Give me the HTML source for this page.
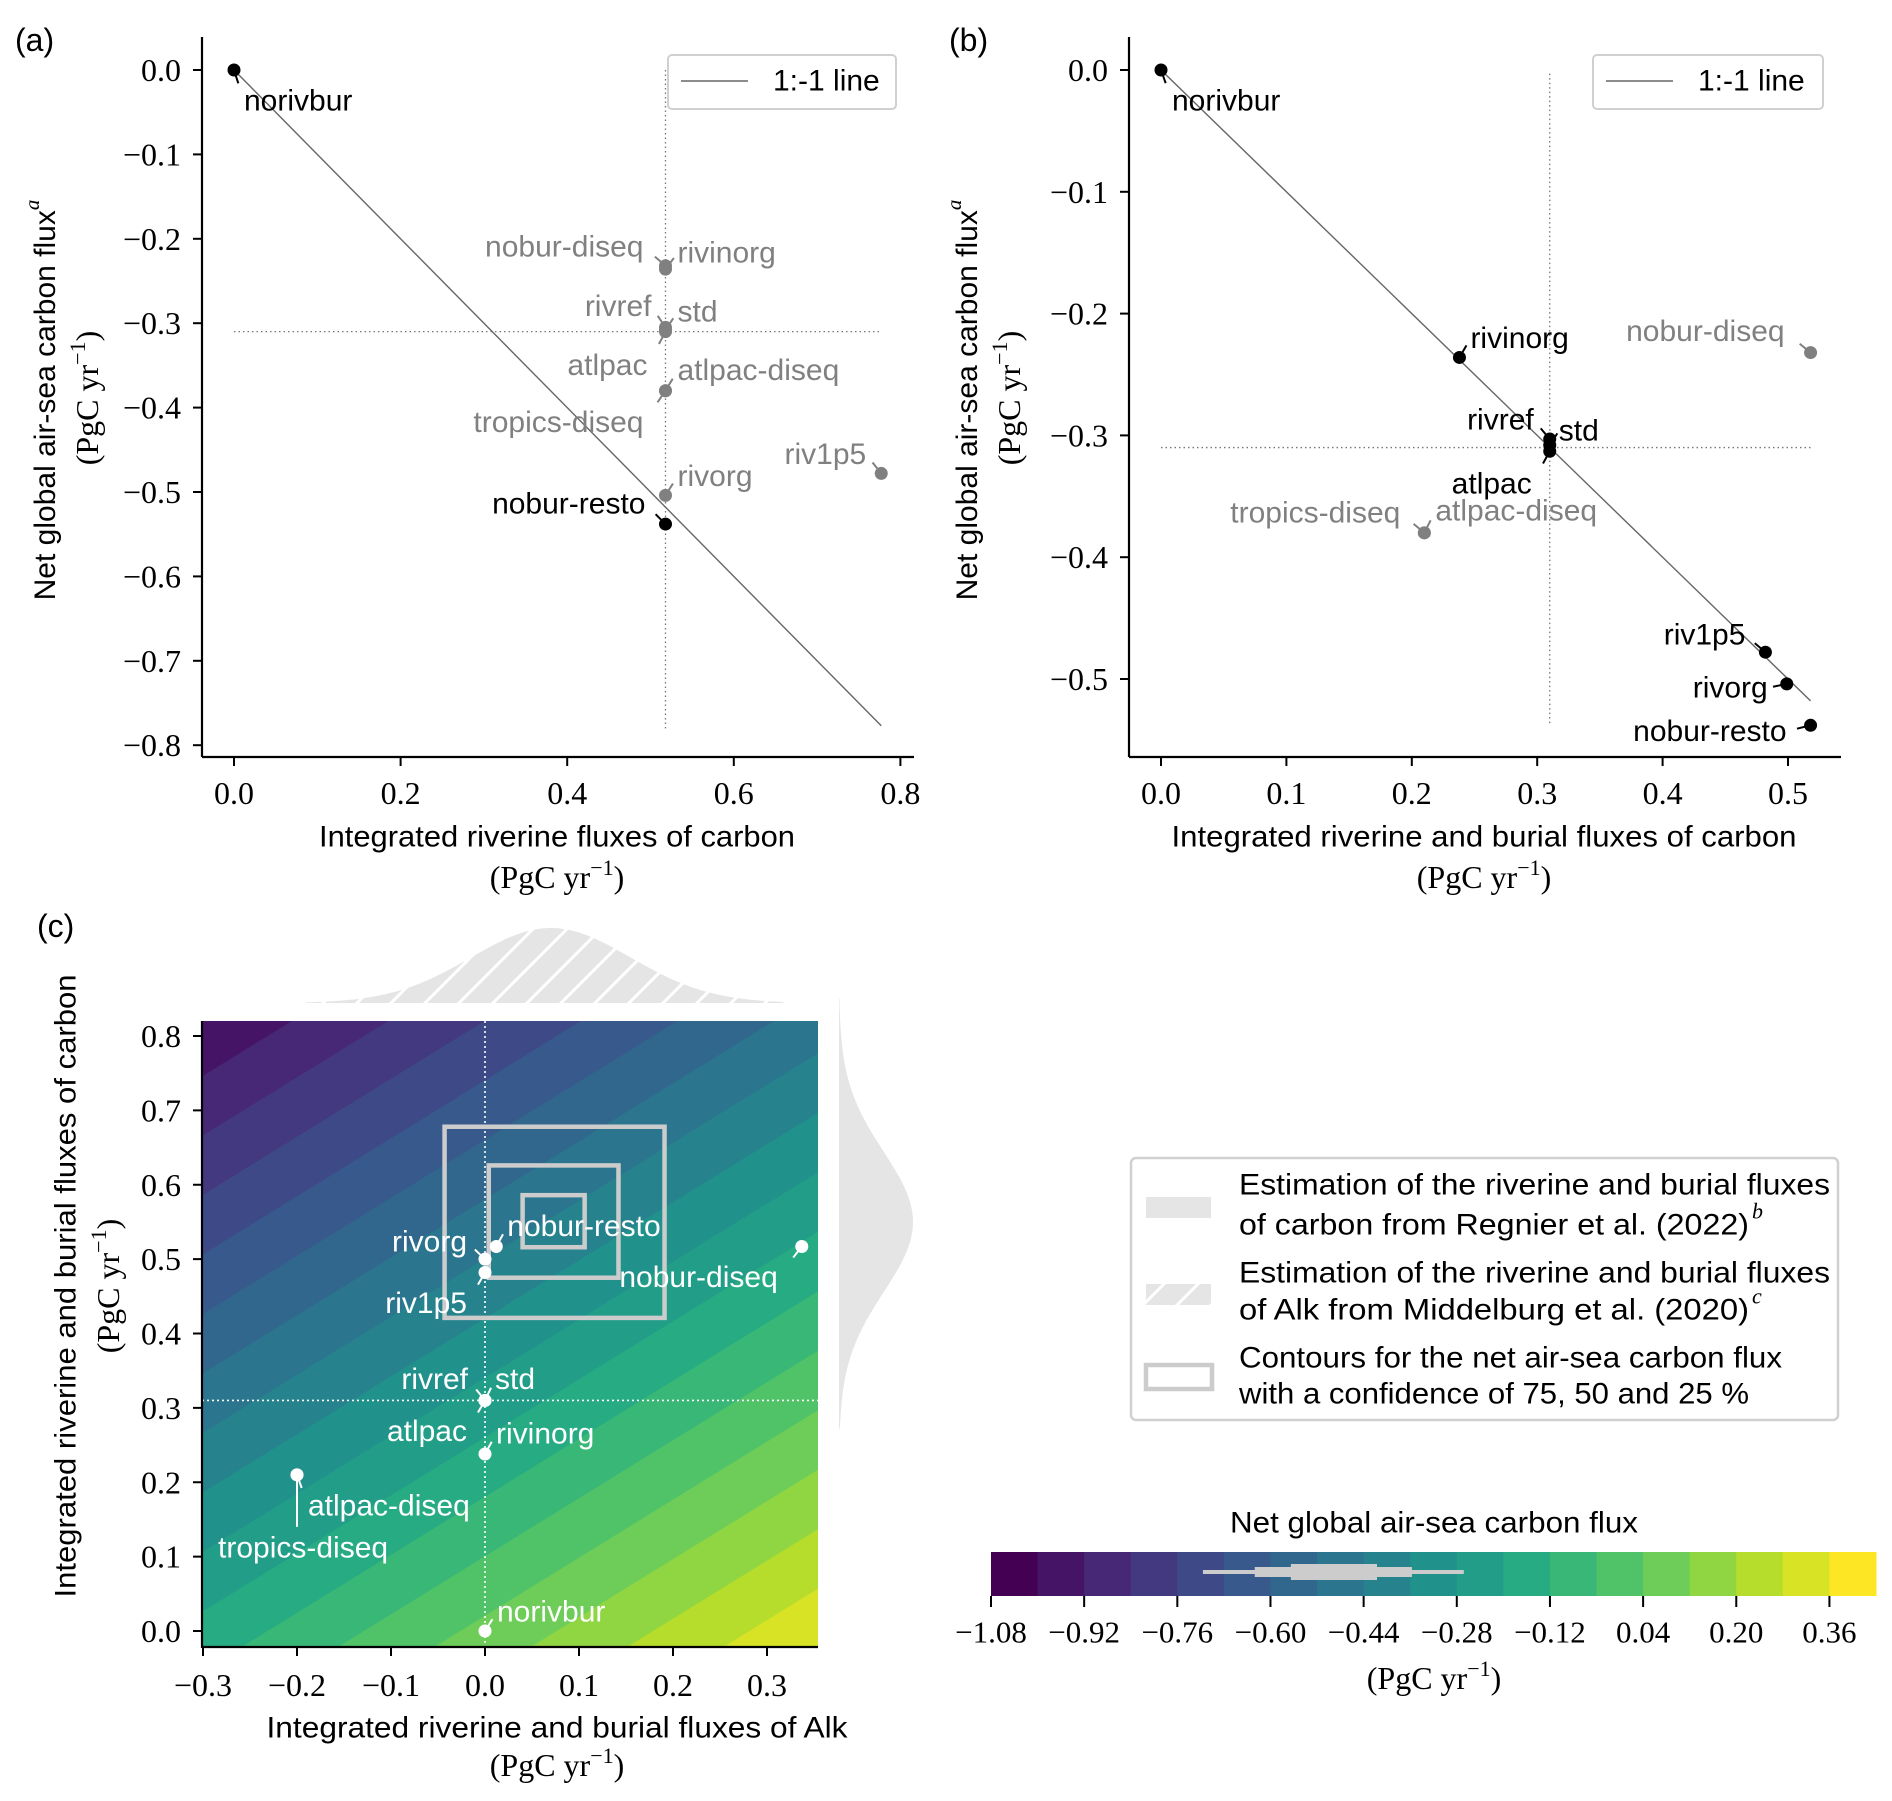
<!DOCTYPE html>
<html><head><meta charset="utf-8"><title>Air-sea carbon flux figure</title>
<style>
html,body{margin:0;padding:0;background:#fff;width:1892px;height:1801px;overflow:hidden;}
svg{display:block;}
text{font-family:"Liberation Sans","DejaVu Sans",sans-serif;}
.serif{font-family:"Liberation Serif","DejaVu Serif",serif;}
</style></head>
<body>
<svg id="fig" xmlns="http://www.w3.org/2000/svg" width="1892" height="1801" viewBox="0 0 1892 1801" overflow="hidden">
<defs>
<clipPath id="clipC"><rect x="202" y="1021" width="616" height="626"/></clipPath>
<pattern id="hatch" patternUnits="userSpaceOnUse" width="34" height="34">
<rect width="34" height="34" fill="#e5e5e5"/>
<path d="M-4,38 L38,-4 M-4,4 L4,-4 M30,38 L38,30" stroke="#fff" stroke-width="3"/>
</pattern>
</defs>
<g id="root"></g>
</svg>
<script>
// ---------- data: panel (a) ----------
const aNames = ["norivbur","nobur-diseq","rivinorg","rivref","std","atlpac","atlpac-diseq","tropics-diseq","rivorg","nobur-resto","riv1p5"];
const aX = [0.0,0.518,0.518,0.518,0.518,0.518,0.518,0.518,0.518,0.518,0.777];
const aY = [0.0,-0.232,-0.236,-0.305,-0.308,-0.31,-0.38,-0.38,-0.504,-0.538,-0.478];
const aGray = [0,1,1,1,1,1,1,1,1,0,1];
const aXTicks = [0.0,0.2,0.4,0.6,0.8];
const aXTickLabels = ["0.0","0.2","0.4","0.6","0.8"];
const aYTicks = [0.0,-0.1,-0.2,-0.3,-0.4,-0.5,-0.6,-0.7,-0.8];
const aYTickLabels = ["0.0","−0.1","−0.2","−0.3","−0.4","−0.5","−0.6","−0.7","−0.8"];
// ---------- data: panel (b) ----------
const bNames = ["norivbur","rivinorg","rivref","std","atlpac","tropics-diseq","atlpac-diseq","nobur-diseq","riv1p5","rivorg","nobur-resto"];
const bX = [0.0,0.238,0.31,0.31,0.31,0.21,0.21,0.518,0.482,0.499,0.518];
const bY = [0.0,-0.236,-0.303,-0.308,-0.313,-0.38,-0.38,-0.232,-0.478,-0.504,-0.538];
const bGray = [0,0,0,0,0,1,1,1,0,0,0];
const bXTicks = [0.0,0.1,0.2,0.3,0.4,0.5];
const bXTickLabels = ["0.0","0.1","0.2","0.3","0.4","0.5"];
const bYTicks = [0.0,-0.1,-0.2,-0.3,-0.4,-0.5];
const bYTickLabels = ["0.0","−0.1","−0.2","−0.3","−0.4","−0.5"];
// ---------- data: panel (c) ----------
const cNames = ["norivbur","rivinorg","std","rivref","atlpac","rivorg","riv1p5","nobur-resto","nobur-diseq","atlpac-diseq","tropics-diseq"];
const cX = [0.0,0.0,0.0,0.0,0.0,0.0,0.0,0.012,0.337,-0.2,-0.2];
const cY = [0.0,0.238,0.31,0.31,0.31,0.50,0.482,0.517,0.517,0.21,0.21];
const cXTicks = [-0.3,-0.2,-0.1,0.0,0.1,0.2,0.3];
const cXTickLabels = ["−0.3","−0.2","−0.1","0.0","0.1","0.2","0.3"];
const cYTicks = [0.0,0.1,0.2,0.3,0.4,0.5,0.6,0.7,0.8];
const cYTickLabels = ["0.0","0.1","0.2","0.3","0.4","0.5","0.6","0.7","0.8"];
const boxX0 = [-0.043,0.004,0.040];
const boxX1 = [0.191,0.142,0.106];
const boxY0 = [0.421,0.475,0.516];
const boxY1 = [0.678,0.626,0.586];
const alkMean = 0.07, alkSd = 0.085;
const carbMean = 0.55, carbSd = 0.094;
const fluxAlkCoef = 0.78, fluxOffset = 0.06;
// ---------- data: colorbar ----------
const levels = [-1.08,-1.00,-0.92,-0.84,-0.76,-0.68,-0.60,-0.52,-0.44,-0.36,-0.28,-0.20,-0.12,-0.04,0.04,0.12,0.20,0.28,0.36,0.44];
const cbTicks = [-1.08,-0.92,-0.76,-0.60,-0.44,-0.28,-0.12,0.04,0.20,0.36];
const cbTickLabels = ["−1.08","−0.92","−0.76","−0.60","−0.44","−0.28","−0.12","0.04","0.20","0.36"];
const cbBox = [-0.716,-0.627,-0.565,-0.417,-0.357,-0.268];

const NS = "http://www.w3.org/2000/svg";
const root = document.getElementById("root");
function mk(tag, attrs, name, parent){
  const el = document.createElementNS(NS, tag);
  for (const k in attrs) el.setAttribute(k, attrs[k]);
  
  
  (parent||root).appendChild(el);
  return el;
}
function txt(x,y,s,name,opt){
  opt = opt||{};
  const t = mk("text",{x:x,y:y,"font-size":opt.fs||30,"text-anchor":opt.anchor||"start","dominant-baseline":"central",fill:opt.fill||"#000"},name,opt.parent);
  if (opt.serif) t.setAttribute("class","serif");
  if (opt.italic) t.setAttribute("font-style","italic");
  if (opt.rot) t.setAttribute("transform","rotate(-90 "+x+" "+y+")");
  if (opt.len){ t.setAttribute("textLength",opt.len); t.setAttribute("lengthAdjust","spacingAndGlyphs"); }
  t.textContent = s;
  return t;
}
function unitLabel(x,y,name,rot){
  const t = mk("text",{x:x,y:y,"font-size":32,"text-anchor":"middle","dominant-baseline":"central",class:"serif"},name);
  if (rot) t.setAttribute("transform","rotate(-90 "+x+" "+y+")");
  const a = mk("tspan",{},"unit-text",t); a.textContent="(PgC yr";
  const b = mk("tspan",{dy:-10,"font-size":22},"unit-exponent",t); b.textContent="−1";
  const c = mk("tspan",{dy:10},"unit-close",t); c.textContent=")";
}
function viridis(t){
  const s=["#440154","#482475","#414487","#355f8d","#2a788e","#21918c","#22a884","#44bf70","#7ad151","#bddf26","#fde725"];
  t=Math.max(0,Math.min(1,t)); const f=t*10, i=Math.min(9,Math.floor(f)), u=f-i;
  const p=h=>[1,3,5].map(k=>parseInt(h.substr(k,2),16));
  const A=p(s[i]),B=p(s[i+1]);
  return "rgb("+A.map((v,k)=>Math.round(v+(B[k]-v)*u)).join(",")+")";
}

function scatterPanel(P){
  const sx=v=>P.x0+v*P.kx, sy=v=>P.y0-v*P.ky;
  mk("line",{x1:P.left,y1:P.top,x2:P.left,y2:P.bottom,stroke:"#000","stroke-width":2.2},P.id+"-y-axis-line");
  mk("line",{x1:P.left,y1:P.bottom,x2:P.right,y2:P.bottom,stroke:"#000","stroke-width":2.2},P.id+"-x-axis-line");
  P.xt.forEach((v,i)=>{
    mk("line",{x1:sx(v),y1:P.bottom,x2:sx(v),y2:P.bottom+9,stroke:"#000","stroke-width":2},P.id+"-x-tick");
    txt(sx(v),P.bottom+36,P.xtl[i],P.id+"-x-tick-label",{fs:32,anchor:"middle",serif:1});
  });
  P.yt.forEach((v,i)=>{
    mk("line",{x1:P.left-9,y1:sy(v),x2:P.left,y2:sy(v),stroke:"#000","stroke-width":2},P.id+"-y-tick");
    txt(P.left-21,sy(v),P.ytl[i],P.id+"-y-tick-label",{fs:32,anchor:"end",serif:1});
  });
  mk("line",{x1:sx(P.vx),y1:sy(P.vTop),x2:sx(P.vx),y2:sy(P.vBot),stroke:"#777","stroke-width":1.3,"stroke-dasharray":"1.5 3"},P.id+"-vertical-reference");
  mk("line",{x1:sx(0),y1:sy(-0.31),x2:sx(P.hEnd),y2:sy(-0.31),stroke:"#777","stroke-width":1.3,"stroke-dasharray":"1.5 3"},P.id+"-horizontal-reference");
  mk("line",{x1:sx(0),y1:sy(0),x2:sx(P.lineEnd),y2:sy(-P.lineEnd),stroke:"#666","stroke-width":1.4},P.id+"-one-to-minus-one-line");
  P.names.forEach((n,i)=>{
    const px=sx(P.xs[i]), py=sy(P.ys[i]);
    const col=P.gray[i]?"#808080":"#000";
    const o=P.off[n];
    const dx=o[0], dy=o[1];
    const L=Math.hypot(dx,dy);
    const ux=dx/L, uy=dy/L;
    mk("line",{x1:px+ux*5,y1:py+uy*5,x2:px+ux*14,y2:py+uy*14,stroke:col,"stroke-width":2},P.id+"-leader-"+n);
    mk("circle",{cx:px,cy:py,r:6.5,fill:col},P.id+"-point-"+n);
    txt(px+dx,py+dy,n,P.id+"-label-"+n,{fill:col,anchor:dx<0?"end":"start"});
  });
  const lg=P.legend;
  mk("rect",{x:lg[0],y:55,width:lg[1]-lg[0],height:54,rx:4,fill:"#fff",stroke:"#d0d0d0","stroke-width":2},P.id+"-legend-box");
  mk("line",{x1:lg[0]+13,y1:81,x2:lg[0]+80,y2:81,stroke:"#666","stroke-width":1.4},P.id+"-legend-line-handle");
  txt(lg[0]+105,81,"1:-1 line",P.id+"-legend-label",{fs:30});
  txt(P.letterX,40,P.letter,P.id+"-panel-letter",{fs:32});
  txt(P.xlabX,837,P.xlab,P.id+"-x-axis-title",{anchor:"middle",len:P.xlabLen});
  unitLabel(P.xlabX,877,P.id+"-x-axis-unit");
  const yt = mk("text",{x:P.ylabX,y:400,"font-size":30,"text-anchor":"middle","dominant-baseline":"central",transform:"rotate(-90 "+P.ylabX+" 400)"},P.id+"-y-axis-title");
  const y1 = mk("tspan",{},"y-title-text",yt); y1.textContent="Net global air-sea carbon flux";
  const y2 = mk("tspan",{dy:-13,"font-size":21,"font-style":"italic",class:"serif"},"y-title-superscript",yt); y2.textContent="a";
  unitLabel(P.ylabX+42,398,P.id+"-y-axis-unit",true);
}

scatterPanel({id:"panel-a",letter:"(a)",letterX:15,left:202,right:914,top:37,bottom:757,
  x0:234,kx:833,y0:70,ky:844,xt:aXTicks,xtl:aXTickLabels,yt:aYTicks,ytl:aYTickLabels,
  vx:0.518,vTop:0.0,vBot:-0.78,hEnd:0.777,lineEnd:0.777,
  names:aNames,xs:aX,ys:aY,gray:aGray,legend:[668,896],
  off:{"norivbur":[10,31],"nobur-diseq":[-22,-19],"rivinorg":[12,-16],"rivref":[-14,-21],"std":[12,-18],"atlpac":[-18,34],
       "atlpac-diseq":[12,-20],"tropics-diseq":[-22,32],"rivorg":[12,-19],"nobur-resto":[-20,-20],"riv1p5":[-15,-19]},
  xlabX:557,xlab:"Integrated riverine fluxes of carbon",xlabLen:476,ylabX:45});

scatterPanel({id:"panel-b",letter:"(b)",letterX:949,left:1129,right:1841,top:37,bottom:757,
  x0:1161,kx:1254,y0:70,ky:1218,xt:bXTicks,xtl:bXTickLabels,yt:bYTicks,ytl:bYTickLabels,
  vx:0.31,vTop:-0.003,vBot:-0.538,hEnd:0.518,lineEnd:0.518,
  names:bNames,xs:bX,ys:bY,gray:bGray,legend:[1593,1823],
  off:{"norivbur":[11,31],"rivinorg":[11,-19],"rivref":[-16,-19],"std":[9,-14],"atlpac":[-18,33],"tropics-diseq":[-24,-20],
       "atlpac-diseq":[11,-22],"nobur-diseq":[-26,-21],"riv1p5":[-20,-17],"rivorg":[-19,4],"nobur-resto":[-24,6]},
  xlabX:1484,xlab:"Integrated riverine and burial fluxes of carbon",xlabLen:625,ylabX:967});

(function(){
  const x0=485, kx=940, y0=1631, ky=743.75;
  const sx=v=>x0+v*kx, sy=v=>y0-v*ky;
  const g = mk("g",{"clip-path":"url(#clipC)"},"panel-c-contour-field");
  const n = levels.length-1;
  for (let k=0;k<n;k++){
    const lo = k===0?-9:levels[k], hi = k===n-1?9:levels[k+1];
    const xa=-0.6, xb=0.7;
    const a=fluxAlkCoef, b=fluxOffset;
    const pts=[[xa,a*xa+b-hi],[xb,a*xb+b-hi],[xb,a*xb+b-lo],[xa,a*xa+b-lo]].map(p=>sx(p[0]).toFixed(1)+","+sy(p[1]).toFixed(1)).join(" ");
    const col = viridis(k/(n-1));
    mk("polygon",{points:pts,fill:col,stroke:col,"stroke-width":0.6},"contour-band",g);
  }
  mk("line",{x1:sx(0),y1:1021,x2:sx(0),y2:1647,stroke:"#fff","stroke-width":1.6,"stroke-dasharray":"2 3"},"panel-c-vertical-reference");
  mk("line",{x1:202,y1:sy(0.31),x2:818,y2:sy(0.31),stroke:"#fff","stroke-width":1.6,"stroke-dasharray":"2 3"},"panel-c-horizontal-reference");
  for (let i=0;i<boxX0.length;i++){
    mk("rect",{x:sx(boxX0[i]),y:sy(boxY1[i]),width:sx(boxX1[i])-sx(boxX0[i]),height:sy(boxY0[i])-sy(boxY1[i]),fill:"none",stroke:"#cccccc","stroke-width":4.5},"confidence-box-"+(i+1));
  }
  let d="M"+sx(-0.19)+",1003";
  for (let v=-0.19; v<=0.32; v+=0.005){ const h=75*Math.exp(-0.5*Math.pow((v-alkMean)/alkSd,2)); d+=" L"+sx(v).toFixed(1)+","+(1003-h).toFixed(1); }
  d+=" L"+sx(0.32)+",1003 Z";
  mk("path",{d:d,fill:"url(#hatch)"},"alk-distribution-top");
  let e="M839,"+sy(0.85);
  for (let v=0.85; v>=0.27; v-=0.005){ const w=74*Math.exp(-0.5*Math.pow((v-carbMean)/carbSd,2)); e+=" L"+(839+w).toFixed(1)+","+sy(v).toFixed(1); }
  e+=" L839,"+sy(0.27)+" Z";
  mk("path",{d:e,fill:"#e5e5e5"},"carbon-distribution-right");
  mk("line",{x1:202,y1:1021,x2:202,y2:1648,stroke:"#000","stroke-width":2.2},"panel-c-y-axis-line");
  mk("line",{x1:202,y1:1647,x2:818,y2:1647,stroke:"#000","stroke-width":2.2},"panel-c-x-axis-line");
  cXTicks.forEach((v,i)=>{
    mk("line",{x1:sx(v),y1:1647,x2:sx(v),y2:1656,stroke:"#000","stroke-width":2},"panel-c-x-tick");
    txt(sx(v),1685,cXTickLabels[i],"panel-c-x-tick-label",{fs:32,anchor:"middle",serif:1});
  });
  cYTicks.forEach((v,i)=>{
    mk("line",{x1:193,y1:sy(v),x2:202,y2:sy(v),stroke:"#000","stroke-width":2},"panel-c-y-tick");
    txt(181,sy(v),cYTickLabels[i],"panel-c-y-tick-label",{fs:32,anchor:"end",serif:1});
  });
  const off={"norivbur":[12,-19],"rivinorg":[11,-20],"std":[10,-21],"rivref":[-17,-21],"atlpac":[-18,31],"rivorg":[-18,-17],
    "riv1p5":[-18,31],"nobur-resto":[11,-20],"nobur-diseq":[-24,31],"atlpac-diseq":[11,31],"tropics-diseq":[-79,73]};
  cNames.forEach((nm,i)=>{
    const px=sx(cX[i]), py=sy(cY[i]);
    const o=off[nm];
    if (nm==="tropics-diseq"){
      mk("line",{x1:px,y1:py+6,x2:px,y2:py+52,stroke:"#fff","stroke-width":2},"panel-c-leader-"+nm);
    } else {
      const L=Math.hypot(o[0],o[1]), ux=o[0]/L, uy=o[1]/L;
      mk("line",{x1:px+ux*5,y1:py+uy*5,x2:px+ux*14,y2:py+uy*14,stroke:"#fff","stroke-width":2},"panel-c-leader-"+nm);
    }
    mk("circle",{cx:px,cy:py,r:6.5,fill:"#fff"},"panel-c-point-"+nm);
    txt(px+o[0],py+o[1],nm,"panel-c-label-"+nm,{fill:"#fff",anchor:(o[0]<0&&nm!=="tropics-diseq")?"end":"start"});
  });
  txt(37,926,"(c)","panel-c-letter",{fs:32});
  txt(557,1728,"Integrated riverine and burial fluxes of Alk","panel-c-x-axis-title",{anchor:"middle",len:581});
  unitLabel(557,1765,"panel-c-x-axis-unit");
  txt(66,1286,"Integrated riverine and burial fluxes of carbon","panel-c-y-axis-title",{anchor:"middle",rot:1,len:623});
  unitLabel(108,1286,"panel-c-y-axis-unit",true);
})();

(function(){
  mk("rect",{x:1131,y:1158,width:707,height:262,rx:5,fill:"#fff",stroke:"#d0d0d0","stroke-width":2.5},"panel-c-legend-box");
  mk("rect",{x:1146,y:1197,width:65,height:21,fill:"#e5e5e5"},"legend-handle-regnier");
  mk("rect",{x:1146,y:1284,width:65,height:21,fill:"url(#hatch)"},"legend-handle-middelburg");
  mk("rect",{x:1146,y:1365,width:66,height:24,fill:"none",stroke:"#cccccc","stroke-width":4.5},"legend-handle-contours");
  const lines=[["Estimation of the riverine and burial fluxes",1185,591],["of carbon from Regnier et al. (2022)",1225,510],
    ["Estimation of the riverine and burial fluxes",1273,591],["of Alk from Middelburg et al. (2020)",1310,510],
    ["Contours for the net air-sea carbon flux",1358,543],["with a confidence of 75, 50 and 25 %",1394,510]];
  lines.forEach(l=>txt(1239,l[1],l[0],"legend-text",{len:l[2]}));
  txt(1752,1211,"b","legend-superscript-b",{fs:22,serif:1,italic:1});
  txt(1752,1296,"c","legend-superscript-c",{fs:22,serif:1,italic:1});
})();

(function(){
  const cx0=991, cx1=1876, vmin=-1.08, vmax=0.44;
  const sx=v=>cx0+(v-vmin)/(vmax-vmin)*(cx1-cx0);
  const n=levels.length-1;
  for (let k=0;k<n;k++){
    const col=viridis(k/(n-1));
    mk("rect",{x:sx(levels[k]),y:1552,width:sx(levels[k+1])-sx(levels[k])+0.5,height:44,fill:col},"colorbar-segment");
  }
  mk("rect",{x:sx(cbBox[0]),y:1570,width:sx(cbBox[5])-sx(cbBox[0]),height:4,fill:"#cccccc"},"colorbar-whisker");
  mk("rect",{x:sx(cbBox[1]),y:1567,width:sx(cbBox[4])-sx(cbBox[1]),height:10,fill:"#cccccc"},"colorbar-box-outer");
  mk("rect",{x:sx(cbBox[2]),y:1564,width:sx(cbBox[3])-sx(cbBox[2]),height:16,fill:"#cccccc"},"colorbar-box-inner");
  cbTicks.forEach((v,i)=>{
    mk("line",{x1:sx(v),y1:1596,x2:sx(v),y2:1607,stroke:"#000","stroke-width":2},"colorbar-tick");
    txt(sx(v),1632,cbTickLabels[i],"colorbar-tick-label",{fs:31,anchor:"middle",serif:1});
  });
  txt(1434,1523,"Net global air-sea carbon flux","colorbar-title",{anchor:"middle",len:408});
  unitLabel(1434,1678,"colorbar-unit");
})();
</script>
</body></html>
